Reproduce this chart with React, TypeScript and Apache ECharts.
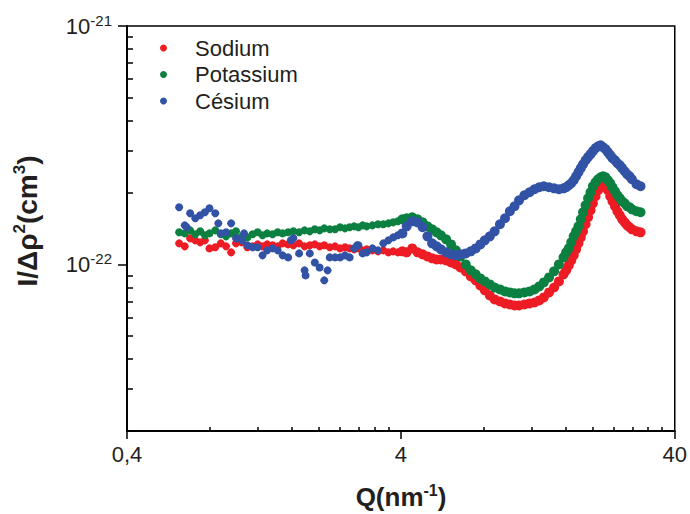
import { useEffect, useRef } from 'react';
import * as echarts from 'echarts';

// Scattering vector Q (nm^-1), shared by the three samples
const qValues = [
  0.62, 0.65, 0.68, 0.71, 0.74, 0.77, 0.80, 0.84, 0.88, 0.92,
  0.96, 1.00, 1.05, 1.10, 1.15, 1.20, 1.25, 1.30, 1.36, 1.42,
  1.48, 1.55, 1.62, 1.70, 1.78, 1.86, 1.94, 2.02, 2.10, 2.20,
  2.30, 2.40, 2.50, 2.60, 2.70, 2.80, 2.90, 3.00, 3.15, 3.30,
  3.45, 3.60, 3.75, 3.90, 4.05, 4.20, 4.40, 4.60, 4.80, 5.00,
  5.20, 5.40, 5.60, 5.85, 6.10, 6.35, 6.60, 6.90, 7.20, 7.50,
  7.80, 8.10, 8.45, 8.80, 9.20, 9.60, 10.0, 10.4, 10.8, 11.3,
  11.8, 12.3, 12.8, 13.3, 13.9, 14.5, 15.1, 15.7, 16.4, 17.1,
  17.8, 18.5, 19.3, 20.1, 21.0, 21.9, 22.8, 23.7, 24.7, 25.7,
  26.8, 27.9, 29.0, 30.0,
  16.05, 16.75, 17.45, 18.15, 18.9, 19.7, 20.55, 21.45, 22.35, 23.25,
  24.2, 25.2, 26.25, 27.35,
];

// I/Δρ² in units of 1e-22 cm³
const sodium = [
  1.225, 1.190, 1.286, 1.261, 1.237, 1.261, 1.167, 1.179, 1.225, 1.190,
  1.123, 1.225, 1.237, 1.179, 1.190, 1.213, 1.190, 1.213, 1.202, 1.190,
  1.225, 1.213, 1.202, 1.225, 1.190, 1.202, 1.213, 1.190, 1.202, 1.179,
  1.190, 1.167, 1.179, 1.167, 1.156, 1.167, 1.145, 1.156, 1.145, 1.134,
  1.145, 1.123, 1.134, 1.123, 1.134, 1.123, 1.167, 1.123, 1.102, 1.080,
  1.060, 1.049, 1.049, 1.039, 1.019, 1.000, 0.971, 0.935, 0.890, 0.857,
  0.816, 0.778, 0.741, 0.713, 0.699, 0.686, 0.679, 0.673, 0.673, 0.679,
  0.686, 0.692, 0.706, 0.727, 0.763, 0.800, 0.848, 0.908, 0.990, 1.091,
  1.225, 1.376, 1.576, 1.804, 2.046, 2.189, 2.046, 1.839, 1.670, 1.545,
  1.458, 1.403, 1.376, 1.363,
  0.944, 1.039, 1.156, 1.298, 1.473, 1.686, 1.931, 2.147, 2.147, 1.931,
  1.753, 1.607, 1.501, 1.431,
];

const potassium = [
  1.363, 1.349, 1.389, 1.337, 1.376, 1.324, 1.349, 1.389, 1.337, 1.311,
  1.349, 1.376, 1.311, 1.298, 1.337, 1.363, 1.324, 1.349, 1.337, 1.363,
  1.349, 1.363, 1.376, 1.363, 1.389, 1.376, 1.403, 1.389, 1.416, 1.403,
  1.403, 1.431, 1.416, 1.431, 1.444, 1.431, 1.458, 1.444, 1.458, 1.473,
  1.473, 1.486, 1.501, 1.516, 1.545, 1.561, 1.576, 1.545, 1.501, 1.444,
  1.403, 1.363, 1.324, 1.274, 1.213, 1.145, 1.080, 1.000, 0.944, 0.908,
  0.873, 0.848, 0.824, 0.800, 0.785, 0.770, 0.763, 0.756, 0.756, 0.763,
  0.770, 0.785, 0.808, 0.840, 0.882, 0.935, 1.000, 1.070, 1.167, 1.311,
  1.444, 1.654, 1.894, 2.127, 2.276, 2.343, 2.254, 2.106, 1.949, 1.839,
  1.753, 1.702, 1.670, 1.654,
  1.123, 1.237, 1.376, 1.545, 1.770, 2.007, 2.211, 2.320, 2.320, 2.189,
  2.026, 1.894, 1.804, 1.736,
];

const cesium = [
  1.736, 1.458, 1.638, 1.561, 1.607, 1.654, 1.719, 1.638, 1.349, 1.363,
  1.486, 1.286, 1.261, 1.202, 1.179, 1.179, 1.091, 1.145, 1.167, 1.145,
  1.091, 1.070, 1.286, 1.112, 0.944, 1.112, 1.019, 0.971, 0.857, 1.070,
  1.070, 1.070, 1.091, 1.070, 1.167, 1.202, 1.112, 1.123, 1.167, 1.145,
  1.225, 1.261, 1.298, 1.324, 1.349, 1.444, 1.516, 1.501, 1.431, 1.311,
  1.225, 1.190, 1.156, 1.123, 1.102, 1.091, 1.102, 1.112, 1.134, 1.167,
  1.213, 1.261, 1.311, 1.376, 1.473, 1.561, 1.670, 1.753, 1.857, 1.949,
  2.007, 2.066, 2.106, 2.127, 2.106, 2.085, 2.066, 2.085, 2.147, 2.254,
  2.436, 2.630, 2.820, 2.985, 3.130, 3.100, 2.956, 2.790, 2.657, 2.532,
  2.388, 2.276, 2.168, 2.127,
  2.106, 2.189, 2.343, 2.532, 2.735, 2.899, 3.072, 3.160, 3.042, 2.871,
  2.735, 2.606, 2.459, 2.343,
];

// extra scattered Césium points at low Q
const cesiumExtraQ = [0.66, 0.862, 1.07, 1.585, 1.795, 2.16, 2.77];
const cesiumExtra = [1.431, 1.486, 1.349, 1.261, 0.899, 0.944, 1.202];

const I_UNIT = 1e-22;
const seriesNames = ['Sodium', 'Potassium', 'Césium'];
const seriesColors = ['#ED1C24', '#0B8040', '#3253A5'];

const xRange = [0.4, 40];
const yRange = [2e-23, 1e-21];
const xMajorTicks = [0.4, 4, 40];
const xTickLabels = ['0,4', '4', '40'];
const xMinorTicks = [0.8, 1.2, 1.6, 2, 2.4, 2.8, 3.2, 3.6, 8, 12, 16, 20, 24, 28, 32, 36];
const yMajorTicks = [1e-22, 1e-21];
const yTickExponents = ['-22', '-21'];
const yMinorTicks = [
  2e-23, 3e-23, 4e-23, 5e-23, 6e-23, 7e-23, 8e-23, 9e-23,
  2e-22, 3e-22, 4e-22, 5e-22, 6e-22, 7e-22, 8e-22, 9e-22,
];

const FONT = "'Liberation Sans', Arial, Helvetica, sans-serif";
const INK = '#231F20';
const lg = (v: number) => Math.log10(v);

export default function App() {
  const ref = useRef<HTMLDivElement>(null);

  useEffect(() => {
    if (!ref.current) return;
    const chart = echarts.init(ref.current, null, { renderer: 'svg' });

    const toPoints = (qs: number[], vals: number[]) =>
      qs.map((q, i) => [lg(q), lg(vals[i] * I_UNIT)]);

    const seriesData = [
      toPoints(qValues, sodium),
      toPoints(qValues, potassium),
      toPoints(qValues, cesium).concat(toPoints(cesiumExtraQ, cesiumExtra)),
    ];

    const xMin = lg(xRange[0]);
    const xMax = lg(xRange[1]);
    const yMin = lg(yRange[0]);
    const yMax = lg(yRange[1]);

    const tickLine = { color: '#000', width: 1.5 };
    const qSplit = lg(4);

    const option: any = {
      animation: false,
      backgroundColor: '#fff',
      grid: {
        left: 127, top: 26, right: 14, bottom: 83,
        show: true, borderColor: '#000', borderWidth: 1.5,
      },
      legend: {
        orient: 'vertical',
        left: 160, top: 37, padding: 0,
        itemGap: 4.5, itemWidth: 7, itemHeight: 7,
        icon: 'circle',
        textStyle: { fontSize: 22, color: INK, fontFamily: FONT, padding: [0, 0, 0, 23] },
        data: seriesNames,
      },
      xAxis: [
        {
          type: 'value', min: xMin, max: xMax, position: 'bottom',
          axisLine: { show: true, onZero: false, lineStyle: tickLine },
          axisTick: { show: true, length: 8, customValues: xMajorTicks.map(lg), lineStyle: tickLine },
          axisLabel: {
            customValues: xMajorTicks.map(lg), margin: 12,
            fontSize: 22, color: INK, fontFamily: FONT,
            formatter: (v: number) => {
              const i = xMajorTicks.findIndex((t) => Math.abs(lg(t) - v) < 1e-6);
              return i >= 0 ? xTickLabels[i] : '';
            },
          },
          splitLine: { show: false },
        },
        {
          type: 'value', min: xMin, max: xMax, position: 'bottom',
          axisLine: { show: true, onZero: false, lineStyle: tickLine },
          axisTick: { show: true, inside: true, length: 4, customValues: xMinorTicks.map(lg), lineStyle: tickLine },
          axisLabel: { show: false },
          splitLine: { show: false },
        },
      ],
      yAxis: [
        {
          type: 'value', min: yMin, max: yMax, position: 'left',
          axisLine: { show: true, onZero: false, lineStyle: tickLine },
          axisTick: { show: true, length: 9, customValues: yMajorTicks.map(lg), lineStyle: tickLine },
          axisLabel: {
            customValues: yMajorTicks.map(lg), margin: 15,
            color: INK, fontFamily: FONT,
            formatter: (v: number) => {
              const i = yMajorTicks.findIndex((t) => Math.abs(lg(t) - v) < 1e-6);
              return i >= 0 ? `{b|10}{s|${yTickExponents[i]}}` : '';
            },
            rich: {
              b: { fontSize: 22, lineHeight: 26, color: INK, fontFamily: FONT },
              s: { fontSize: 15, lineHeight: 15, verticalAlign: 'top', color: INK, fontFamily: FONT },
            },
          },
          splitLine: { show: false },
        },
        {
          type: 'value', min: yMin, max: yMax, position: 'left',
          axisLine: { show: true, onZero: false, lineStyle: tickLine },
          axisTick: { show: true, inside: true, length: 6, customValues: yMinorTicks.map(lg), lineStyle: tickLine },
          axisLabel: { show: false },
          splitLine: { show: false },
        },
      ],
      graphic: [
        {
          type: 'text', x: 401, y: 497,
          style: {
            text: '{b|Q(nm}{s|-1}{b|)}',
            align: 'center', verticalAlign: 'middle',
            rich: {
              b: { fontSize: 26, fontWeight: 'bold', lineHeight: 30, fill: INK, fontFamily: FONT },
              s: { fontSize: 16, fontWeight: 'bold', lineHeight: 16, verticalAlign: 'top', fill: INK, fontFamily: FONT },
            },
          },
        },
        {
          type: 'text', x: 27, y: 221, rotation: Math.PI / 2,
          style: {
            text: '{b|I/Δρ}{s|2}{b|(cm}{s|3}{b|)}',
            align: 'center', verticalAlign: 'middle',
            rich: {
              b: { fontSize: 28, fontWeight: 'bold', lineHeight: 32, fill: INK, fontFamily: FONT },
              s: { fontSize: 17, fontWeight: 'bold', lineHeight: 17, verticalAlign: 'top', fill: INK, fontFamily: FONT },
            },
          },
        },
      ],
      series: seriesNames.map((name, k) => ({
        name,
        type: 'scatter',
        xAxisIndex: 0,
        yAxisIndex: 0,
        symbol: 'circle',
        symbolSize: (val: number[]) => (val[0] < qSplit ? 8 : 10),
        itemStyle: { color: seriesColors[k], opacity: 1 },
        emphasis: { disabled: true },
        data: seriesData[k],
      })),
    };

    chart.setOption(option);
    return () => chart.dispose();
  }, []);

  return (
    <div
      ref={ref}
      style={{ position: 'fixed', left: 0, top: 0, width: 690, height: 514, background: '#fff' }}
    />
  );
}
